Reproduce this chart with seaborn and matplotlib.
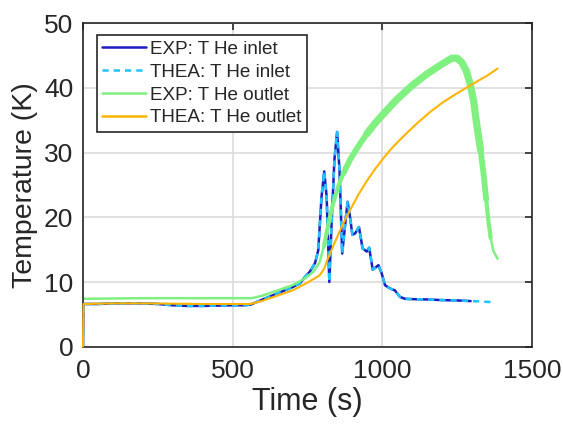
import numpy as np
import pandas as pd
import matplotlib
matplotlib.use("Agg")
import matplotlib.pyplot as plt
import seaborn as sns

# Datos (tiempo en s, temperatura en K)
t_inlet_exp = [0, 2, 50, 100, 200, 250, 300, 350, 400, 450, 500, 540, 560, 600, 658, 700,
               725, 742, 758, 775, 786, 797, 806, 814, 823, 831, 840, 849, 857, 866, 875,
               884, 892, 900, 909, 922, 934, 948, 956, 968, 987, 998, 1009, 1026, 1042,
               1059, 1076, 1100, 1150, 1200, 1250, 1295]
T_inlet_exp = [0, 6.6, 6.6, 6.7, 6.7, 6.6, 6.4, 6.3, 6.3, 6.35, 6.4, 6.4, 6.5, 7.3, 8.4, 9.2,
               9.8, 10.8, 11.6, 12.9, 14.9, 23.2, 27.1, 23.2, 10.0, 19.6, 28.9, 33.2, 27.3, 14.4, 18.5,
               22.4, 20.1, 17.3, 17.5, 18.5, 15.2, 14.7, 15.3, 11.9, 12.6, 11.3, 9.5, 9.0, 8.7,
               7.7, 7.4, 7.35, 7.3, 7.2, 7.15, 7.05]

t_inlet_thea = [0, 2, 50, 100, 200, 250, 300, 350, 400, 450, 500, 540, 560, 600, 658, 700,
                725, 742, 758, 775, 786, 797, 806, 814, 823, 831, 840, 849, 857, 866, 875,
                884, 892, 900, 909, 922, 934, 948, 956, 968, 987, 998, 1009, 1026, 1042,
                1059, 1076, 1100, 1150, 1200, 1250, 1295, 1330, 1374]
T_inlet_thea = [0, 6.6, 6.6, 6.7, 6.7, 6.6, 6.4, 6.3, 6.3, 6.35, 6.4, 6.4, 6.5, 7.3, 8.4, 9.2,
                9.8, 10.8, 11.6, 12.9, 14.9, 23.2, 27.1, 23.2, 10.0, 19.6, 28.9, 33.2, 27.3, 14.4, 18.5,
                22.4, 20.1, 17.3, 17.5, 18.5, 15.2, 14.7, 15.3, 11.9, 12.6, 11.3, 9.5, 9.0, 8.7,
                7.7, 7.4, 7.35, 7.3, 7.2, 7.15, 7.05, 7.0, 6.85]

t_outlet_exp = [0, 100, 200, 300, 400, 500, 565, 600, 650, 700, 740, 770, 790, 805, 820, 835,
                853, 870, 892, 920, 948, 975, 1000, 1048, 1100, 1150, 1200, 1232, 1250, 1265,
                1280, 1293, 1305, 1315, 1328, 1338, 1347, 1354, 1362, 1371, 1385]
T_outlet_exp = [7.4, 7.45, 7.5, 7.5, 7.5, 7.5, 7.5, 7.9, 8.7, 9.5, 10.5, 11.6, 13.0, 15.5, 19.0, 22.0,
                24.8, 26.8, 28.9, 31.0, 32.9, 34.5, 35.8, 38.2, 40.4, 42.2, 43.7, 44.6, 44.6, 44.0,
                42.7, 40.7, 38.0, 34.5, 30.5, 26.8, 22.8, 19.6, 16.8, 14.8, 13.6]

t_outlet_thea = [0, 2, 100, 200, 300, 400, 500, 560, 600, 650, 700, 750, 790, 805, 820, 840,
                 864, 892, 920, 948, 975, 1003, 1030, 1059, 1090, 1120, 1160, 1200, 1240, 1280,
                 1320, 1350, 1385]
T_outlet_thea = [0, 6.6, 6.7, 6.7, 6.65, 6.6, 6.6, 6.6, 7.1, 7.9, 8.7, 9.9, 11.0, 12.0, 13.8, 16.0,
                 18.5, 21.1, 23.5, 25.6, 27.4, 29.1, 30.6, 32.0, 33.4, 34.7, 36.3, 37.7, 38.9, 40.0,
                 41.1, 41.9, 43.0]

# Estilo tipo MATLAB
sns.set_style("white")
plt.rcParams['font.family'] = ['Liberation Sans', 'DejaVu Sans']
text_col = '#262626'

fig = plt.figure(figsize=(5.63, 4.28), dpi=100)
ax = fig.add_axes([0.1474, 0.19, 0.7975, 0.7556])

sns.lineplot(x=t_inlet_exp, y=T_inlet_exp, ax=ax, color='#1C1CC0', lw=1.8,
             estimator=None, sort=False, label='EXP: T He inlet')
sns.lineplot(x=t_inlet_thea, y=T_inlet_thea, ax=ax, color='#1EC3FF', lw=1.8,
             estimator=None, sort=False, label='THEA: T He inlet')
ax.lines[-1].set_dashes((2.5, 2.0))

sns.lineplot(x=t_outlet_exp, y=T_outlet_exp, ax=ax, color='#80F080', lw=1.8,
             estimator=None, sort=False, label='EXP: T He outlet')
# banda ancha (ruido de medida) del EXP outlet, más gruesa hacia el máximo
df_band = pd.DataFrame({'t': t_outlet_exp, 'T': T_outlet_exp})
z_green = ax.lines[-1].get_zorder()
for t0, t1, w in [(805, 1362, 3.0), (870, 1347, 4.2), (948, 1328, 5.2)]:
    seg = df_band[(df_band['t'] >= t0) & (df_band['t'] <= t1)]
    ax.plot(seg['t'], seg['T'], color='#80F080', lw=w, solid_capstyle='round',
            solid_joinstyle='round', zorder=z_green)

sns.lineplot(x=t_outlet_thea, y=T_outlet_thea, ax=ax, color='#FFB400', lw=1.5,
             estimator=None, sort=False, label='THEA: T He outlet')
ax.lines[-1].set_zorder(3)
ax.lines[-1].set_clip_on(False)

ax.set_xlim(0, 1500)
ax.set_ylim(0, 50)
ax.set_xticks([0, 500, 1000, 1500])
ax.set_yticks([0, 10, 20, 30, 40, 50])
ax.grid(True, color='#DCDCDC', lw=1.2)
ax.set_axisbelow(True)
for s in ax.spines.values():
    s.set_visible(True)
    s.set_color(text_col)
    s.set_linewidth(1.2)
ax.tick_params(direction='in', length=5, width=1.2, color=text_col, labelcolor=text_col,
               labelsize=19, top=True, right=True)
ax.tick_params(axis='x', pad=9)
ax.tick_params(axis='y', pad=7)
ax.set_xlabel('Time (s)', fontsize=22, color=text_col, labelpad=3)
ax.set_ylabel('Temperature (K)', fontsize=20.5, color=text_col, labelpad=4)

leg = ax.legend(loc='upper left', bbox_to_anchor=(0.0305, 0.964), borderaxespad=0,
                fontsize=13.6, frameon=True, fancybox=False, framealpha=1,
                edgecolor='#262626', handlelength=2.3, handletextpad=0.2,
                labelspacing=0.3, borderpad=0.3)
leg.get_frame().set_linewidth(1.2)
for h in leg.get_lines():
    h.set_linewidth(1.8)

plt.savefig('out.png', dpi=100)
